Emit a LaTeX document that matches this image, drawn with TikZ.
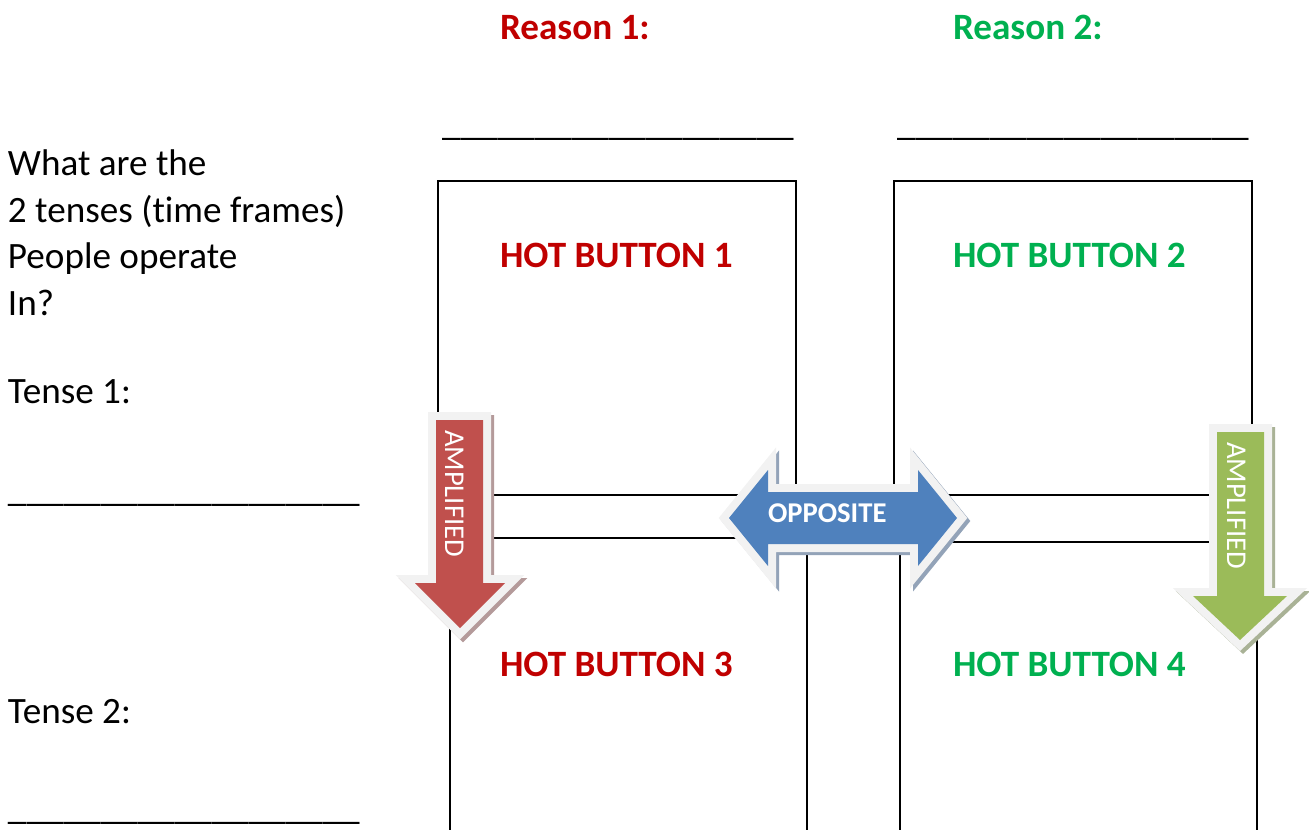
\documentclass[tikz,border=0pt]{standalone}
\usepackage{fontspec}
\setmainfont{Carlito}[Ligatures=NoCommon]

\definecolor{hotred}{HTML}{C00000}
\definecolor{hotgreen}{HTML}{00B050}
\definecolor{redfill}{HTML}{C0504D}
\definecolor{greenfill}{HTML}{9BBB59}
\definecolor{bluefill}{HTML}{4F81BD}
\definecolor{rimgray}{HTML}{F2F2F2}
\definecolor{redshade}{HTML}{B49A9A}
\definecolor{greenshade}{HTML}{A9B296}
\definecolor{blueshade}{HTML}{93A3B8}

% outlines of the three block arrows, in pixel units
\newcommand{\redpath}{(436,420) -- (483,420) -- (483,583) -- (505,583) -- (460,628) -- (415,583) -- (436,583) -- cycle}
\newcommand{\greenpath}{(1217,432) -- (1264,432) -- (1264,596) -- (1287,596) -- (1240,640) -- (1193,596) -- (1217,596) -- cycle}
\newcommand{\bluepath}{(729,518) -- (768,470) -- (768,492) -- (918,492) -- (918,470) -- (957,518) -- (918,566) -- (918,544) -- (768,544) -- (768,566) -- cycle}

\begin{document}
\begin{tikzpicture}[x=0.02cm, y=-0.02cm,
	every node/.style={inner sep=0pt, outer sep=0pt},
	plain/.style={font=\fontsize{21.15}{26.5}\selectfont, anchor=base west},
	redhead/.style={font=\fontsize{21.15}{26.5}\selectfont\bfseries, text=hotred, anchor=base west},
	greenhead/.style={font=\fontsize{21.15}{26.5}\selectfont\bfseries, text=hotgreen, anchor=base west},
	hbbox/.style={draw, line width=0.85pt, anchor=north west, minimum width=7.16cm, minimum height=6.28cm},
	lowbox/.style={draw, line width=0.85pt, anchor=north west, minimum width=7.14cm, minimum height=8cm},
	rim/.style={draw=rimgray, fill=rimgray, line width=0.32cm, line join=miter},
	amptext/.style={font=\fontsize{16.3}{19}\selectfont, text=white, rotate=-90, anchor=base west}]
	\useasboundingbox (0,0) rectangle (1309,829);
	\clip (0,0) rectangle (1309,829);

	% question on the left
	\node[plain] (q1) at (8,175) {What are the};
	\node[plain] (q2) at (8,222) {2 tenses (time frames)};
	\node[plain] (q3) at (8,268) {People operate};
	\node[plain] (q4) at (8,315) {In?};
	\node[plain] (t1) at (8,403) {Tense 1:};
	\node[plain] (blank1) at (8,501) {\_\_\_\_\_\_\_\_\_\_\_\_\_\_\_\_\_\_\_};
	\node[plain] (t2) at (8,723) {Tense 2:};
	\node[plain] (blank2) at (8,819) {\_\_\_\_\_\_\_\_\_\_\_\_\_\_\_\_\_\_\_};

	% reasons
	\node[redhead] (r1) at (500,39) {Reason 1:};
	\node[greenhead] (r2) at (953,39) {Reason 2:};
	\node[plain] (rb1) at (442,135) {\_\_\_\_\_\_\_\_\_\_\_\_\_\_\_\_\_\_\_};
	\node[plain] (rb2) at (897,135) {\_\_\_\_\_\_\_\_\_\_\_\_\_\_\_\_\_\_\_};

	% the four boxes
	\node[hbbox] (box1) at (438,181) {};
	\node[hbbox] (box2) at (894,181) {};
	\node[lowbox] (box3) at (450,538) {};
	\node[lowbox] (box4) at (900,542) {};
	\node[redhead] (hb1) at (500,267) {HOT BUTTON 1};
	\node[greenhead] (hb2) at (953,267) {HOT BUTTON 2};
	\node[redhead] (hb3) at (500,676) {HOT BUTTON 3};
	\node[greenhead] (hb4) at (953,676) {HOT BUTTON 4};

	% block arrows
	\draw[rim, draw=redshade, fill=redshade, shift={(3,3)}] \redpath;
	\draw[rim] \redpath;
	\fill[redfill] \redpath;
	\draw[rim, draw=greenshade, fill=greenshade, shift={(3,3)}] \greenpath;
	\draw[rim] \greenpath;
	\fill[greenfill] \greenpath;
	\draw[rim, draw=blueshade, fill=blueshade, shift={(3,3)}] \bluepath;
	\draw[rim] \bluepath;
	\fill[bluefill] \bluepath;

	\node[amptext] (amp1) at (445,430) {AMPLIFIED};
	\node[amptext] (amp2) at (1227,442) {AMPLIFIED};
	\node[font=\fontsize{16.3}{19}\selectfont\bfseries, text=white, anchor=base west] (opp) at (768,522) {OPPOSITE};
\end{tikzpicture}
\end{document}
